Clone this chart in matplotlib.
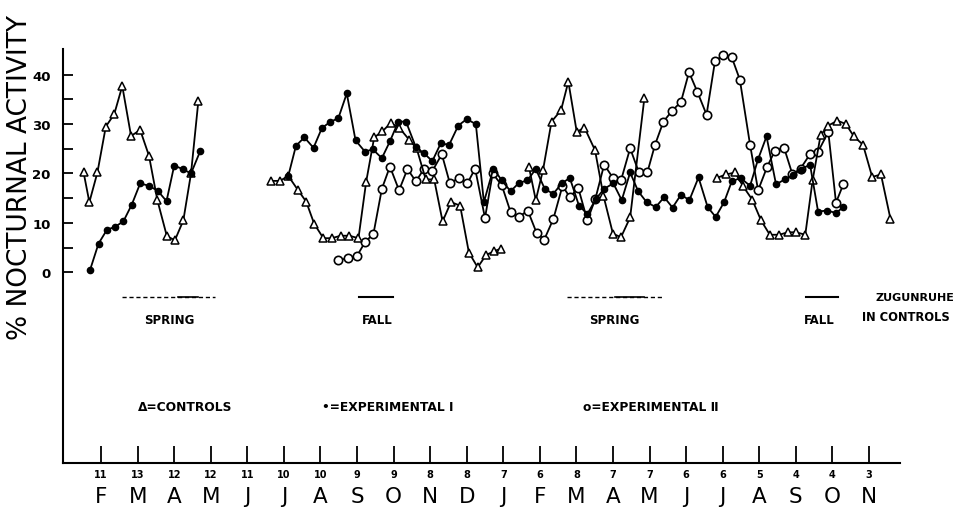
import matplotlib
matplotlib.use("Agg")
import matplotlib.pyplot as plt
from matplotlib.transforms import blended_transform_factory

plt.rcParams['font.family'] = ['DejaVu Sans']

# ---------------- data ----------------
months = ["F", "M", "A", "M", "J", "J", "A", "S", "O", "N", "D",
          "J", "F", "M", "A", "M", "J", "J", "A", "S", "O", "N"]
sample_sizes = ["11", "13", "12", "12", "11", "10", "10", "9", "9", "8", "8",
                "7", "6", "8", "7", "7", "6", "6", "5", "4", "4", "3"]

# Controls (x = position in months from first February, y = % nocturnal activity)
ctrl_x1 = [-0.48, -0.32, -0.10, 0.13, 0.36, 0.58, 0.82, 1.07, 1.31, 1.54, 1.80, 2.02, 2.25, 2.46, 2.66]
ctrl_y1 = [20.3, 14.2, 20.2, 29.5, 32.0, 37.7, 27.6, 28.8, 23.6, 14.6, 7.3, 6.5, 10.5, 20.0, 34.6]
ctrl_x2 = [4.64, 4.89, 5.12, 5.38, 5.61, 5.83, 6.08, 6.31, 6.55, 6.79, 7.04, 7.25, 7.47, 7.69,
           7.92, 8.15, 8.43, 8.63, 8.88, 9.11, 9.34, 9.57, 9.82, 10.06, 10.30, 10.53, 10.76, 10.94]
ctrl_y2 = [18.5, 18.5, 19.5, 16.7, 14.3, 9.8, 6.9, 6.9, 7.4, 7.4, 6.9, 18.3, 27.3, 28.5,
           30.2, 29.3, 26.8, 25.1, 18.8, 18.8, 10.3, 14.2, 13.5, 4.0, 1.0, 3.5, 4.3, 4.8]
ctrl_x3 = [11.70, 11.89, 12.09, 12.32, 12.58, 12.78, 13.01, 13.22, 13.51, 13.74, 14.00, 14.22, 14.47, 14.86]
ctrl_y3 = [21.4, 14.6, 20.8, 30.5, 32.8, 38.6, 28.4, 29.3, 24.7, 15.5, 7.8, 7.1, 11.1, 35.3]
ctrl_x4 = [16.84, 17.09, 17.34, 17.56, 17.81, 18.05, 18.29, 18.55, 18.78, 19.01, 19.26,
           19.46, 19.68, 19.89, 20.14, 20.37, 20.59, 20.84, 21.09, 21.33, 21.59]
ctrl_y4 = [19.1, 19.8, 20.2, 17.4, 14.7, 10.5, 7.6, 7.6, 8.1, 8.1, 7.6,
           18.6, 27.8, 29.7, 30.7, 30.0, 27.5, 25.8, 19.3, 19.8, 10.8]

# Experimental I
exp1_x1 = [-0.30, -0.07, 0.16, 0.38, 0.61, 0.84, 1.07, 1.31, 1.55, 1.79, 2.00, 2.23, 2.46, 2.71]
exp1_y1 = [0.5, 5.8, 8.6, 9.2, 10.3, 13.7, 18.0, 17.5, 16.5, 14.4, 21.6, 20.9, 20.0, 24.5]
exp1_x2 = [5.12, 5.33, 5.56, 5.81, 6.04, 6.26, 6.49, 6.72, 6.96, 7.22, 7.43, 7.68, 7.90, 8.13,
           8.34, 8.61, 8.83, 9.06, 9.29, 9.52, 9.77, 10.00, 10.25, 10.47, 10.73, 10.96, 11.20,
           11.43, 11.66, 11.89, 12.14, 12.37, 12.60, 12.82, 13.07, 13.30, 13.54, 13.76, 14.01,
           14.24, 14.47, 14.69, 14.92, 15.17, 15.40, 15.63, 15.86, 16.09, 16.34, 16.59, 16.81,
           17.04, 17.25, 17.49, 17.75, 17.97, 18.20, 18.46, 18.70, 18.93, 19.13, 19.39, 19.61,
           19.86, 20.10, 20.30]
exp1_y2 = [19.5, 25.6, 27.3, 25.2, 29.2, 30.4, 31.2, 36.2, 26.7, 24.4, 24.9, 23.1, 26.5, 30.5,
           30.5, 25.3, 24.1, 22.5, 26.1, 25.8, 29.7, 31.0, 30.0, 14.2, 21.0, 18.6, 16.4,
           18.1, 18.6, 20.9, 16.8, 15.9, 18.0, 19.1, 13.5, 11.8, 14.9, 16.9, 18.0,
           14.6, 20.2, 16.4, 14.2, 13.2, 15.2, 13.1, 15.7, 14.6, 19.2, 13.2, 11.2,
           14.2, 18.4, 19.1, 17.5, 22.9, 27.5, 17.8, 18.8, 19.7, 20.8, 21.8, 12.3,
           12.5, 12.0, 13.2]

# Experimental II
exp2_x = [6.49, 6.76, 6.99, 7.22, 7.45, 7.68, 7.90, 8.15, 8.38, 8.61, 8.83, 9.06, 9.32, 9.54,
          9.79, 10.02, 10.23, 10.50, 10.71, 10.96, 11.20, 11.43, 11.67, 11.91, 12.12, 12.37,
          12.62, 12.82, 13.05, 13.30, 13.52, 13.76, 14.00, 14.22, 14.47, 14.71, 14.94, 15.15,
          15.38, 15.62, 15.86, 16.08, 16.31, 16.56, 16.79, 17.02, 17.25, 17.47, 17.75, 17.97,
          18.22, 18.43, 18.68, 18.91, 19.13, 19.39, 19.61, 19.89, 20.10, 20.30]
exp2_y = [2.4, 2.9, 3.2, 6.1, 7.8, 16.9, 21.4, 16.6, 20.9, 18.4, 20.9, 20.5, 23.9, 18.0,
          19.1, 18.0, 21.0, 11.0, 20.0, 17.6, 12.2, 11.2, 12.5, 8.0, 6.6, 10.8,
          17.5, 15.2, 17.1, 10.5, 14.9, 21.8, 19.1, 18.6, 25.1, 20.2, 20.2, 25.8,
          30.5, 32.7, 34.5, 40.5, 36.5, 31.9, 42.7, 44.0, 43.5, 39.0, 25.8, 16.6,
          21.4, 24.6, 25.2, 19.8, 21.0, 23.9, 24.4, 28.4, 14.1, 17.8]

# season bars (month positions) and labels
spring_bars = [(0.57, 3.12), (12.74, 15.34)]
spring_solid = [(2.10, 2.65), (14.05, 14.85)]
fall_bars = [(7.05, 7.98), (19.28, 20.15)]
season_labels = [("SPRING", 1.86), ("FALL", 7.55), ("SPRING", 14.04), ("FALL", 19.63)]
legend_labels = [("\u0394=CONTROLS", 1.01), ("\u2022=EXPERIMENTAL \u2160", 6.04),
                 ("o=EXPERIMENTAL \u2161", 13.18)]

# ---------------- figure ----------------
fig = plt.figure(figsize=(9.61, 5.10), dpi=100)
ax = fig.add_axes([0.0656, 0.0902, 0.8709, 0.8118])
ax.set_xlim(-1.04, 21.85)
ax.set_ylim(-38.6, 45.2)

lw = 1.3
ax.plot(exp2_x, exp2_y, color='black', lw=lw, marker='o', ms=6, mfc='white', mec='black', mew=1.2, zorder=2)
for xs, ys in [(ctrl_x1, ctrl_y1), (ctrl_x2, ctrl_y2), (ctrl_x3, ctrl_y3), (ctrl_x4, ctrl_y4)]:
    ax.plot(xs, ys, color='black', lw=lw, marker='^', ms=6, mfc='white', mec='black', mew=1.1, zorder=3)
for xs, ys in [(exp1_x1, exp1_y1), (exp1_x2, exp1_y2)]:
    ax.plot(xs, ys, color='black', lw=lw, marker='o', ms=4.5, mfc='black', mec='black', zorder=4)

# spines
for s in ['top', 'right']:
    ax.spines[s].set_visible(False)
ax.spines['left'].set_linewidth(1.5)
ax.spines['bottom'].set_linewidth(1.5)

# y ticks
ax.set_yticks([0, 10, 20, 30, 40])
ax.set_yticks([5, 15, 25, 35], minor=True)
ax.tick_params(axis='y', which='both', direction='in', length=7, width=1.3, pad=9)
for lab in ax.get_yticklabels():
    lab.set_fontweight('bold')
    lab.set_fontsize(9.5)

# x ticks
ax.set_xticks(range(len(months)))
ax.set_xticklabels(sample_sizes, fontsize=7, fontweight='bold')
ax.tick_params(axis='x', which='both', direction='in', length=12, width=1.3, pad=4)

trans = blended_transform_factory(ax.transData, ax.transAxes)
for i, m in enumerate(months):
    ax.text(i, -0.094, m, transform=trans, ha='center', va='baseline', fontsize=15.5, clip_on=False)

# season annotations
for (a, b) in spring_bars:
    ax.plot([a, b], [-5.0, -5.0], color='black', lw=1.0, ls=(0, (3, 2)), clip_on=False)
for (a, b) in spring_solid:
    ax.plot([a, b], [-5.0, -5.0], color='black', lw=1.2, clip_on=False)
for (a, b) in fall_bars:
    ax.plot([a, b], [-4.9, -4.9], color='black', lw=1.5, clip_on=False)
for txt, xm in season_labels:
    ax.text(xm, -9.5, txt, ha='center', va='center', fontsize=8.5, fontweight='bold')
ax.text(21.19, -5.0, "ZUGUNRUHE", ha='left', va='center', fontsize=8.0, fontweight='bold', clip_on=False)
ax.text(20.81, -8.85, "IN CONTROLS", ha='left', va='center', fontsize=8.3, fontweight='bold', clip_on=False)

for txt, xm in legend_labels:
    ax.text(xm, -27.1, txt, ha='left', va='center', fontsize=8.8, fontweight='bold')

fig.text(0.021, 0.652, "% NOCTURNAL ACTIVITY", rotation=90, ha='center', va='center', fontsize=19)

fig.savefig("out.png", dpi=100)
